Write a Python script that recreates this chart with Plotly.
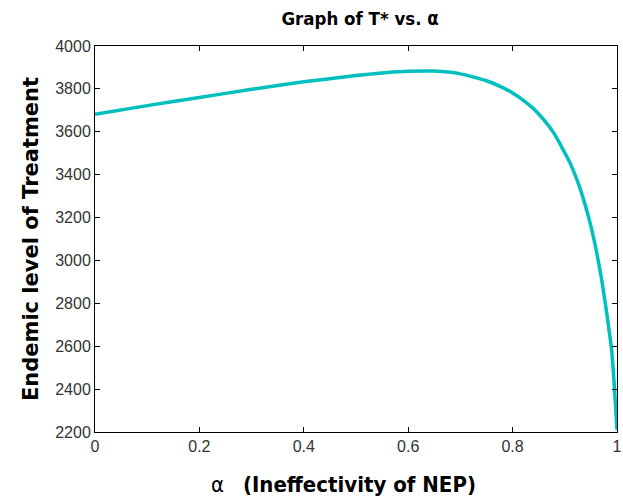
import plotly.graph_objects as go

alpha = [0, 0.1, 0.2, 0.3, 0.4, 0.5, 0.55, 0.6, 0.65, 0.7, 0.75, 0.78, 0.8, 0.82, 0.84, 0.86, 0.88,
         0.91, 0.93, 0.95, 0.96, 0.97, 0.98, 0.99, 0.995, 1.0]
T_star = [3682, 3722, 3760, 3798, 3833, 3862, 3874, 3882, 3883, 3870, 3838, 3807, 3781, 3748, 3708, 3655, 3590,
          3455, 3330, 3160, 3050, 2920, 2760, 2575, 2410, 2210]

x_ticks = [0, 0.2, 0.4, 0.6, 0.8, 1]
x_tick_labels = ["0", "0.2", "0.4", "0.6", "0.8", "1"]
y_ticks = [2200, 2400, 2600, 2800, 3000, 3200, 3400, 3600, 3800, 4000]

fig = go.Figure()
fig.add_trace(go.Scatter(
    x=alpha, y=T_star, mode="lines",
    line=dict(color="rgb(0,191,191)", width=3.5, shape="spline", smoothing=0.5),
    showlegend=False, hoverinfo="skip", cliponaxis=False))

axis_common = dict(
    showline=True, linecolor="black", linewidth=1, mirror="ticks",
    ticks="inside", ticklen=5, tickcolor="black", showgrid=False, zeroline=False,
    automargin=False, ticklabeloverflow="allow",
    tickfont=dict(family="Liberation Sans, Arial", size=16, color="#333"),
)

fig.update_layout(
    width=623, height=502,
    margin=dict(l=95, r=6, t=46, b=70),
    paper_bgcolor="white", plot_bgcolor="white",
    title=dict(text="<b>Graph of T* vs. α</b>", x=0.578, xref="container", xanchor="center",
               y=0.964, yref="container", yanchor="middle",
               font=dict(family="DejaVu Sans Condensed, DejaVu Sans", size=18.5, color="black")),
    xaxis=dict(range=[0, 1], tickvals=x_ticks, ticktext=x_tick_labels, **axis_common),
    yaxis=dict(range=[2200, 4000], tickvals=y_ticks,
               title=dict(text="<b>Endemic level of Treatment</b>",
                          font=dict(family="DejaVu Sans", size=21, color="black"),
                          standoff=10),
               **axis_common),
    annotations=[dict(
        text="α\u00a0\u00a0\u00a0<b>(Ineffectivity of NEP)</b>",
        xref="paper", yref="paper", x=0.477, y=-0.137, xanchor="center", yanchor="middle",
        showarrow=False,
        font=dict(family="DejaVu Sans Condensed, DejaVu Sans", size=22, color="black"))],
)

fig.write_html("out.html", config={"displayModeBar": False},
               post_script="document.body.style.margin='0';")
